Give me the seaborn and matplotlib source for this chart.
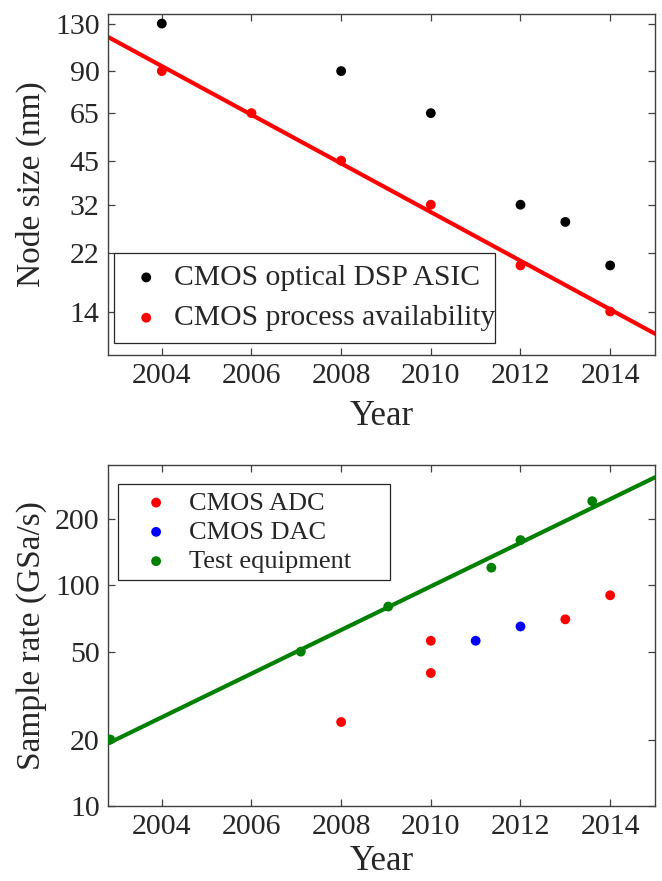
import numpy as np
import pandas as pd
import matplotlib
matplotlib.use("Agg")
import matplotlib.pyplot as plt
import seaborn as sns
from matplotlib.ticker import FixedLocator, FixedFormatter, NullLocator

sns.set_theme(style="ticks")
plt.rcParams['font.family'] = ['Liberation Serif', 'DejaVu Serif']
plt.rcParams['mathtext.fontset'] = 'stix'

# ---- Top panel data ----
asic_years = [2004, 2008, 2010, 2012, 2013, 2014]
asic_nodes = [130, 90, 65, 32, 28, 20]
proc_years = [2004, 2006, 2008, 2010, 2012, 2014]
proc_nodes = [90, 65, 45, 32, 20, 14]
top_yticks = [14, 22, 32, 45, 65, 90, 130]

# ---- Bottom panel data ----
adc_years = [2008, 2010, 2010, 2013, 2014]
adc_rates = [24, 56, 40, 70, 90]
dac_years = [2011, 2012]
dac_rates = [56, 65]
test_years = [2002.85, 2007.1, 2009.05, 2011.35, 2012, 2013.6]
test_rates = [20, 50, 80, 120, 160, 240]
bot_yticks = [10, 20, 50, 100, 200]

xticks = [2004, 2006, 2008, 2010, 2012, 2014]
xlim = (2002.8, 2015.0)

TXT = '#262626'
SPINE = '#404040'

fig = plt.figure(figsize=(6.62, 8.81), dpi=100)
ax1 = fig.add_axes([108/662, 1-355/881, 547/662, 341/881])
ax2 = fig.add_axes([108/662, 1-806/881, 547/662, 341/881])


def fit_line(xs, ys):
    p = np.polyfit(np.asarray(xs, float), np.log10(ys), 1)
    xx = np.array(xlim)
    return pd.DataFrame({'x': xx, 'y': 10 ** np.polyval(p, xx)})


def style(ax, yticks, ylim, xpad):
    ax.set_yscale('log')
    ax.set_xlim(*xlim)
    ax.set_ylim(*ylim)
    ax.yaxis.set_major_locator(FixedLocator(yticks))
    ax.yaxis.set_major_formatter(FixedFormatter([str(t) for t in yticks]))
    ax.yaxis.set_minor_locator(NullLocator())
    ax.set_xticks(xticks)
    ax.set_xticklabels([str(t) for t in xticks])
    ax.tick_params(direction='in', top=True, right=True, length=5, width=0.9,
                   labelsize=21.5, colors=SPINE, labelcolor=TXT, pad=6)
    for s in ax.spines.values():
        s.set_visible(True)
        s.set_color(SPINE)
        s.set_linewidth(1.0)
    ax.set_xlabel('Year', fontsize=25, color=TXT, labelpad=xpad)


# Top panel
df_fit1 = fit_line(proc_years, proc_nodes)
sns.lineplot(data=df_fit1, x='x', y='y', ax=ax1, color='#ff0000', lw=3, zorder=2)
sns.scatterplot(x=asic_years, y=asic_nodes, ax=ax1, color='black', s=50,
                edgecolor='none', label='CMOS optical DSP ASIC', zorder=3)
sns.scatterplot(x=proc_years, y=proc_nodes, ax=ax1, color='#ff0000', s=50,
                edgecolor='none', label='CMOS process availability', zorder=3)
style(ax1, top_yticks, (10, 140), 8)
ax1.set_ylabel('Node size (nm)', fontsize=24, color=TXT, labelpad=6)
leg1 = ax1.legend(loc='lower left', bbox_to_anchor=(0.0104, 0.0343, 0.698, 0.5),
                  mode='expand', borderaxespad=0, fontsize=21.3,
                  frameon=True, fancybox=False, edgecolor='#262626', framealpha=1,
                  handletextpad=0.25, handlelength=1.4, borderpad=0.4,
                  labelspacing=0.46)
leg1.get_frame().set_linewidth(0.9)

# Bottom panel
df_fit2 = fit_line(test_years, test_rates)
sns.lineplot(data=df_fit2, x='x', y='y', ax=ax2, color='#008000', lw=3, zorder=2)
sns.scatterplot(x=adc_years, y=adc_rates, ax=ax2, color='#ff0000', s=50,
                edgecolor='none', label='CMOS ADC', zorder=3)
sns.scatterplot(x=dac_years, y=dac_rates, ax=ax2, color='#0000ff', s=50,
                edgecolor='none', label='CMOS DAC', zorder=3)
sns.scatterplot(x=test_years, y=test_rates, ax=ax2, color='#008000', s=50,
                edgecolor='none', label='Test equipment', zorder=3)
style(ax2, bot_yticks, (10, 350), 3)
ax2.set_ylabel('Sample rate (GSa/s)', fontsize=24, color=TXT, labelpad=6)
leg2 = ax2.legend(loc='upper left', bbox_to_anchor=(0.018, 0.5, 0.4967, 0.443),
                  mode='expand', borderaxespad=0, fontsize=19,
                  frameon=True, fancybox=False, edgecolor='#262626', framealpha=1,
                  handletextpad=0.05, handlelength=2.4, borderpad=0.25,
                  labelspacing=0.22)
leg2.get_frame().set_linewidth(0.9)

fig.savefig('out.png', dpi=100)
